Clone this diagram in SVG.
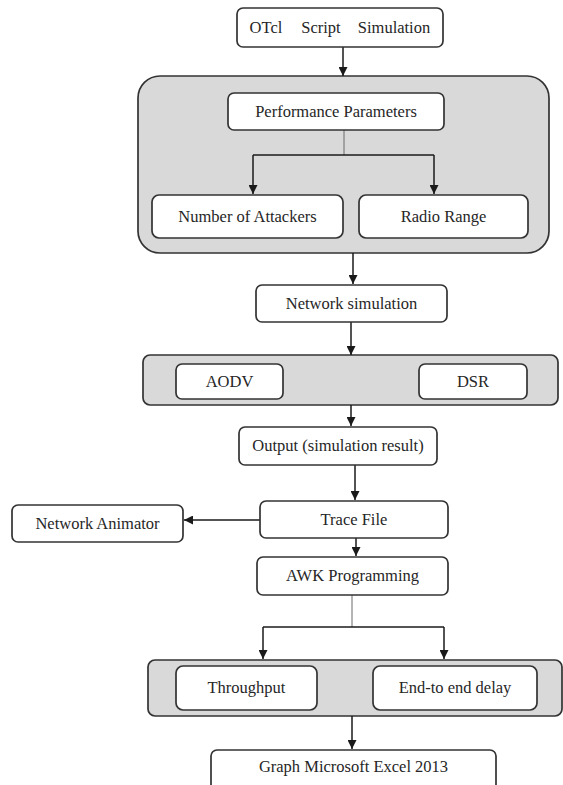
<svg xmlns="http://www.w3.org/2000/svg" width="563" height="785" viewBox="0 0 563 785">
  <defs>
    <marker id="arrow" viewBox="0 0 10 10" refX="10" refY="5" markerWidth="9" markerHeight="9" markerUnits="userSpaceOnUse" orient="auto">
      <path d="M0,0 L10,5 L0,10 Z" fill="#1a1a1a"/>
    </marker>
    <style>
      .bg { fill: #ffffff; }
      .group { fill: #d9d9d9; stroke: #333333; stroke-width: 1.7; }
      .box { fill: #ffffff; stroke: #333333; stroke-width: 1.7; }
      .lbl { font-family: "Liberation Serif", "Times New Roman", serif; font-size: 16.5px; fill: #262626; text-anchor: middle; }
      .link { fill: none; stroke: #1a1a1a; stroke-width: 1.5; }
      .thin { fill: none; stroke: #6a6a6a; stroke-width: 1; }
    </style>
  </defs>

  <rect class="bg" x="0" y="0" width="563" height="785"/>

  <!-- container groups -->
  <g id="params-group">
    <rect class="group" x="138" y="76" width="411" height="177" rx="22" ry="22"/>
  </g>
  <g id="protocol-group">
    <rect class="group" x="143" y="355" width="415" height="50" rx="7" ry="7"/>
  </g>
  <g id="metrics-group">
    <rect class="group" x="148" y="660" width="414" height="56" rx="7" ry="7"/>
  </g>

  <!-- connectors -->
  <g id="connectors">
    <line class="link" x1="343" y1="47" x2="343" y2="76" marker-end="url(#arrow)"/>
    <line class="thin" x1="344" y1="130" x2="344" y2="155"/>
    <polyline class="link" points="253,155 434,155"/>
    <line class="link" x1="253" y1="155" x2="253" y2="194" marker-end="url(#arrow)"/>
    <line class="link" x1="434" y1="155" x2="434" y2="194" marker-end="url(#arrow)"/>
    <line class="link" x1="353" y1="253" x2="353" y2="284" marker-end="url(#arrow)"/>
    <line class="link" x1="351" y1="322" x2="351" y2="355" marker-end="url(#arrow)"/>
    <line class="link" x1="351" y1="405" x2="351" y2="426" marker-end="url(#arrow)"/>
    <line class="link" x1="355" y1="465" x2="355" y2="500" marker-end="url(#arrow)"/>
    <line class="link" x1="260" y1="520" x2="184" y2="520" marker-end="url(#arrow)"/>
    <line class="link" x1="356" y1="538" x2="356" y2="556" marker-end="url(#arrow)"/>
    <line class="thin" x1="352" y1="595" x2="352" y2="627"/>
    <polyline class="link" points="263,627 444,627"/>
    <line class="link" x1="263" y1="627" x2="263" y2="659" marker-end="url(#arrow)"/>
    <line class="link" x1="444" y1="627" x2="444" y2="659" marker-end="url(#arrow)"/>
    <line class="link" x1="352" y1="716" x2="352" y2="749" marker-end="url(#arrow)"/>
  </g>

  <!-- nodes -->
  <g id="otcl">
    <rect class="box" x="237" y="8" width="206" height="39" rx="6" ry="6"/>
    <text class="lbl" y="33"><tspan x="266">OTcl</tspan><tspan x="321">Script</tspan><tspan x="394">Simulation</tspan></text>
  </g>
  <g id="performance">
    <rect class="box" x="228" y="93" width="216" height="37" rx="6" ry="6"/>
    <text class="lbl" x="336" y="117">Performance Parameters</text>
  </g>
  <g id="attackers">
    <rect class="box" x="152" y="195" width="191" height="43" rx="7" ry="7"/>
    <text class="lbl" x="247.5" y="222">Number of Attackers</text>
  </g>
  <g id="radio">
    <rect class="box" x="359" y="195" width="169" height="43" rx="7" ry="7"/>
    <text class="lbl" x="443.5" y="222">Radio Range</text>
  </g>
  <g id="netsim">
    <rect class="box" x="256" y="285" width="191" height="37" rx="6" ry="6"/>
    <text class="lbl" x="351.5" y="309">Network simulation</text>
  </g>
  <g id="aodv">
    <rect class="box" x="176" y="364" width="107" height="35" rx="6" ry="6"/>
    <text class="lbl" x="229.5" y="387">AODV</text>
  </g>
  <g id="dsr">
    <rect class="box" x="419" y="364" width="108" height="35" rx="6" ry="6"/>
    <text class="lbl" x="473" y="387">DSR</text>
  </g>
  <g id="output">
    <rect class="box" x="239" y="427" width="198" height="38" rx="6" ry="6"/>
    <text class="lbl" x="338" y="451">Output (simulation result)</text>
  </g>
  <g id="trace">
    <rect class="box" x="260" y="501" width="188" height="37" rx="6" ry="6"/>
    <text class="lbl" x="354" y="525">Trace File</text>
  </g>
  <g id="animator">
    <rect class="box" x="12" y="505" width="171" height="37" rx="6" ry="6"/>
    <text class="lbl" x="97.5" y="529">Network Animator</text>
  </g>
  <g id="awk">
    <rect class="box" x="257" y="557" width="191" height="38" rx="6" ry="6"/>
    <text class="lbl" x="352.5" y="581">AWK Programming</text>
  </g>
  <g id="throughput">
    <rect class="box" x="176" y="666" width="141" height="44" rx="7" ry="7"/>
    <text class="lbl" x="246.5" y="693">Throughput</text>
  </g>
  <g id="delay">
    <rect class="box" x="373" y="666" width="164" height="44" rx="7" ry="7"/>
    <text class="lbl" x="455" y="693">End-to end delay</text>
  </g>
  <g id="excel">
    <rect class="box" x="211" y="750" width="285" height="50" rx="6" ry="6"/>
    <text class="lbl" x="353.5" y="772">Graph Microsoft Excel 2013</text>
  </g>
</svg>
